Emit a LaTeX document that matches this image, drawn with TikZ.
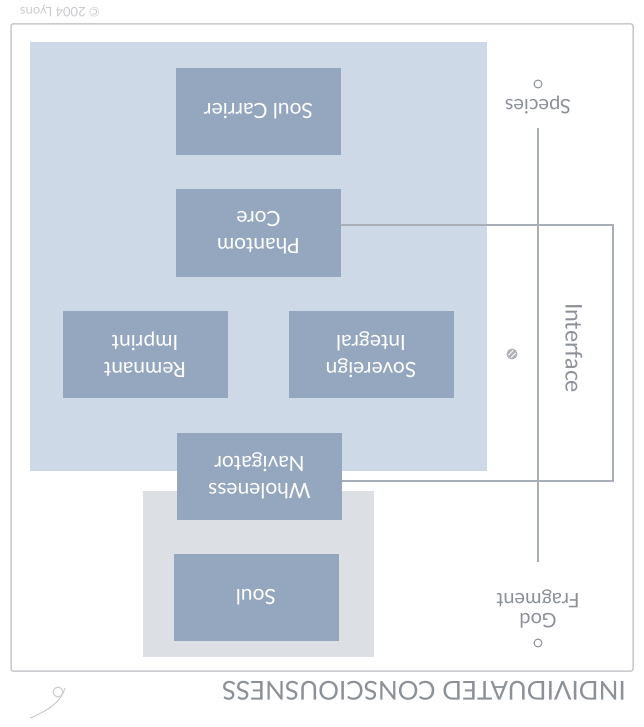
\documentclass[tikz,border=0pt]{standalone}
\usepackage{fontspec}
\setmainfont{Lato}
\definecolor{bigblue}{HTML}{CDD9E6}
\definecolor{boxblue}{HTML}{94A7BE}
\definecolor{soulgray}{HTML}{DCDFE3}
\definecolor{linegray}{HTML}{A8AFB9}
\definecolor{framegray}{HTML}{C9CBCE}
\definecolor{txtgray}{HTML}{8C9198}
\begin{document}
\begin{tikzpicture}[x=1pt,y=-1pt,
  darkbox/.style={fill=boxblue,text=white,minimum width=165pt,minimum height=87pt,align=center,inner sep=0pt,font=\fontsize{21}{27}\selectfont,rotate=180},
  sidetext/.style={text=txtgray,align=center,font=\fontsize{20}{20}\selectfont,rotate=180,inner sep=1pt},
  conn/.style={draw=linegray,line width=1.2pt},
  dot/.style={circle,draw=txtgray,line width=1pt,minimum size=8pt,inner sep=0pt}]
\useasboundingbox (0,0) rectangle (643,727);
\fill[white] (0,0) rectangle (643,727);
% outer frame
\draw[framegray,line width=1.5pt,rounded corners=2pt] (11,24) rectangle (633,671);
% background panels
\fill[bigblue] (30,42) rectangle (487,471);
\fill[soulgray] (143,491) rectangle (374,657);
% boxes
\node[darkbox] (carrier) at (258.5,111.5) {Soul Carrier};
\node[darkbox] (phantom) at (258.5,233) {Phantom\\Core};
\node[darkbox] (sovereign) at (371,354.5) {Sovereign\\Integral};
\node[darkbox] (remnant) at (145,354.5) {Remnant\\Imprint};
\node[darkbox] (wholeness) at (259.5,476) {Wholeness\\Navigator};
\node[darkbox] (soul) at (256,597.5) {Soul};
% interface connector
\coordinate (c1) at (613,225);
\coordinate (c2) at (613,481);
\draw[conn] (phantom.west |- c1) -- (c1) -- (c2) -- (wholeness.west |- c2);
% scale line
\node[dot] (top) at (538,84) {};
\node[sidetext] (species) at (538,105) {Species};
\node[sidetext] (god) at (538,609) {God\\Fragment};
\node[dot] (bot) at (538,643) {};
\coordinate (l1) at (538,128);
\coordinate (l2) at (538,562);
\draw[conn] (l1) -- (l2);
\node[text=txtgray,rotate=-90,font=\fontsize{23}{24}\selectfont] (iface) at (574,348) {Interface};
% small symbol
\fill[txtgray!70] (512,354) circle (5.5pt);
\draw[white,line width=0.9pt] (508.5,355) -- (513,350.5);
\draw[white,line width=0.9pt] (511,357.5) -- (515.5,353);
% title and copyright
\node[text=txtgray,rotate=180,font=\fontsize{26}{28}\selectfont,anchor=center] (title) at (424,691) {INDIVIDUATED CONSCIOUSNESS};
\node[text=framegray,rotate=180,font=\fontsize{13}{14}\selectfont] (copy) at (60,11) {© 2004 Lyons};
% logo
\draw[framegray,line width=1pt] (30,718) .. controls (50,710) and (62,700) .. (65,688);
\draw[framegray,line width=1pt] (58,692) circle (5pt);
\end{tikzpicture}
\end{document}
